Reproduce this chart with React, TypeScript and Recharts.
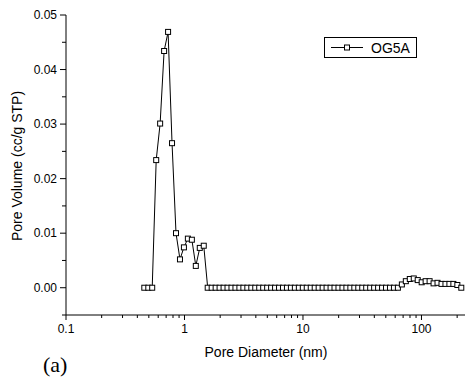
import { LineChart, Line, XAxis, YAxis, Legend } from 'recharts';

const seriesName = 'OG5A';

// pore diameter (nm)
const poreDiameter = [
  0.458, 0.495, 0.534, 0.577, 0.623, 0.673, 0.727, 0.785, 0.848, 0.916,
  0.989, 1.068, 1.154, 1.246, 1.346, 1.454, 1.57, 1.696, 1.832, 1.978,
  2.137, 2.307, 2.492, 2.692, 2.907, 3.14, 3.391, 3.663, 3.956, 4.273,
  4.614, 4.984, 5.383, 5.813, 6.279, 6.781, 7.323, 7.91, 8.543, 9.229,
  9.966, 10.76, 11.63, 12.56, 13.56, 14.65, 15.82, 17.09, 18.45, 19.93,
  21.53, 23.25, 25.11, 27.12, 29.29, 31.63, 34.16, 36.9, 39.85, 43.05,
  46.49, 50.21, 54.23, 58.57, 63.25, 68.32, 73.78, 79.69, 86.07, 92.96,
  100.4, 108.4, 117.1, 126.5, 136.6, 147.6, 159.4, 172.1, 185.9, 200.8,
  216.8,
];

// pore volume (cc/g STP)
const poreVolume = [
  0, 0, 0, 0.0234, 0.0301, 0.0434, 0.0469, 0.0265, 0.01, 0.0052,
  0.0074, 0.009, 0.0088, 0.004, 0.0073, 0.0077, 0, 0, 0, 0,
  0, 0, 0, 0, 0, 0, 0, 0, 0, 0,
  0, 0, 0, 0, 0, 0, 0, 0, 0, 0,
  0, 0, 0, 0, 0, 0, 0, 0, 0, 0,
  0, 0, 0, 0, 0, 0, 0, 0, 0, 0,
  0, 0, 0, 0, 0, 0.0006, 0.0012, 0.0016, 0.0017, 0.0014,
  0.001, 0.0012, 0.0012, 0.0008, 0.0009, 0.0007, 0.0007, 0.0007, 0.0007, 0.0005,
  0,
];

const xTicks = [
  0.1, 0.2, 0.3, 0.4, 0.5, 0.6, 0.7, 0.8, 0.9,
  1, 2, 3, 4, 5, 6, 7, 8, 9,
  10, 20, 30, 40, 50, 60, 70, 80, 90,
  100, 200,
];
const xLabelled = [0.1, 1, 10, 100];
const yTicks = [-0.005, 0, 0.005, 0.01, 0.015, 0.02, 0.025, 0.03, 0.035, 0.04, 0.045, 0.05];

const data = poreDiameter.map((d, i) => ({ d, v: poreVolume[i] }));

const FONT = '"Liberation Sans", Arial, sans-serif';

function XTick({ x, y, payload }: any) {
  const v = payload.value;
  const major = xLabelled.some((m) => Math.abs(m - v) < 1e-9);
  return (
    <g>
      <line x1={x} x2={x} y1={y} y2={y + (major ? 5 : 3)} stroke="#000" />
      {major && (
        <text x={x} y={y + 18} textAnchor="middle" fontSize={12} fontFamily={FONT} fill="#000">
          {v}
        </text>
      )}
    </g>
  );
}

function YTick({ x, y, payload }: any) {
  const v = payload.value;
  const major = Math.abs(v * 100 - Math.round(v * 100)) < 1e-6;
  return (
    <g>
      <line x1={x - (major ? 6 : 4)} x2={x} y1={y} y2={y} stroke="#000" />
      {major && (
        <text x={x - 9} y={y + 4} textAnchor="end" fontSize={12} fontFamily={FONT} fill="#000">
          {v.toFixed(2)}
        </text>
      )}
    </g>
  );
}

function SquareDot({ cx, cy, index }: any) {
  return (
    <rect
      key={`dot-${index}`}
      x={cx - 2.5}
      y={cy - 2.5}
      width={5}
      height={5}
      fill="#fff"
      stroke="#000"
      strokeWidth={1}
    />
  );
}

function LegendBox() {
  return (
    <svg width={93} height={21} style={{ display: 'block' }}>
      <rect x={0.5} y={0.5} width={92} height={20} fill="#fff" stroke="#000" />
      <line x1={7} x2={39} y1={10.5} y2={10.5} stroke="#000" />
      <rect x={20.5} y={8} width={5} height={5} fill="#fff" stroke="#000" />
      <text x={47} y={15.5} fontSize={14} fontFamily={FONT} fill="#000">
        {seriesName}
      </text>
    </svg>
  );
}

export default function App() {
  return (
    <div style={{ position: 'absolute', left: 0, top: 0, width: 465, height: 379, background: '#fff' }}>
      <LineChart width={465} height={379} data={data} margin={{ top: 15, right: 0, bottom: 34, left: 0 }}>
        <XAxis
          dataKey="d"
          type="number"
          scale="log"
          domain={[0.1, 233]}
          allowDataOverflow
          ticks={xTicks}
          interval={0}
          tick={<XTick />}
          tickLine={false}
          tickSize={0}
          tickMargin={0}
          axisLine={{ stroke: '#000' }}
          height={30}
        />
        <YAxis
          type="number"
          domain={[-0.005, 0.05]}
          ticks={yTicks}
          interval={0}
          tick={<YTick />}
          tickLine={false}
          tickSize={0}
          tickMargin={0}
          axisLine={{ stroke: '#000' }}
          width={66}
        />
        <Legend
          layout="horizontal"
          verticalAlign="middle"
          align="center"
          content={() => <LegendBox />}
          wrapperStyle={{ top: 37, left: 324, width: 93, height: 21 }}
        />
        <Line
          type="linear"
          dataKey="v"
          name={seriesName}
          stroke="#000"
          strokeWidth={1}
          dot={SquareDot}
          activeDot={false}
          isAnimationActive={false}
        />
      </LineChart>
      <svg
        width={465}
        height={379}
        style={{ position: 'absolute', left: 0, top: 0, pointerEvents: 'none' }}
      >
        <text x={266} y={357} textAnchor="middle" fontSize={14} fontFamily={FONT} fill="#000">
          Pore Diameter (nm)
        </text>
        <text
          x={22}
          y={166}
          textAnchor="middle"
          fontSize={14}
          fontFamily={FONT}
          fill="#000"
          transform="rotate(-90, 22, 166)"
        >
          Pore Volume (cc/g STP)
        </text>
        <text x={43} y={372} fontSize={22} fontFamily='"Liberation Serif", "Times New Roman", serif' fill="#000">
          (a)
        </text>
      </svg>
    </div>
  );
}
